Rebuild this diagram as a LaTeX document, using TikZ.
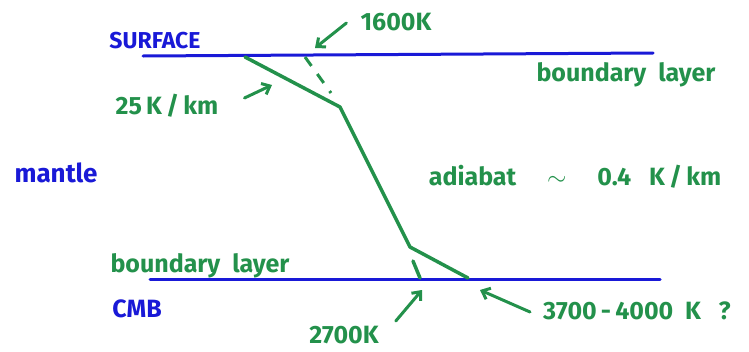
\documentclass[tikz,border=0pt]{standalone}
\usepackage{fontspec}
\setmainfont{Fira Sans}
\usetikzlibrary{arrows.meta, positioning}

\definecolor{penblue}{RGB}{25,25,215}
\definecolor{pengreen}{RGB}{35,145,75}

\tikzset{
  bline/.style={penblue, line width=3pt, line cap=round},
  gline/.style={pengreen, line width=3.5pt, line cap=round, line join=round},
  gdash/.style={pengreen, line width=3pt, dash pattern=on 11pt off 10pt},
  garrow/.style={pengreen, line width=3pt, line cap=round,
    -{Straight Barb[length=7pt, width=12pt, line width=3pt]}},
  blabel/.style={penblue, font=\fontsize{23}{26}\selectfont\bfseries, inner sep=0pt},
  glabel/.style={pengreen, font=\fontsize{25}{28}\selectfont\bfseries, inner sep=0pt}
}

\begin{document}
\begin{tikzpicture}[x=1pt, y=-1pt]
        \useasboundingbox (0,0) rectangle (749,351);

        % Surface and core-mantle boundary
        \coordinate (surfL) at (143,56);
        \coordinate (surfR) at (653,53);
        \coordinate (cmbL) at (150,279);
        \coordinate (cmbR) at (660,279);
        \draw[bline] (surfL) -- (surfR);
        \draw[bline] (cmbL) -- (cmbR);

        % Geotherm with the two boundary layers
        \coordinate (geoTop) at (245,57);
        \coordinate (kinkTop) at (340,107);
        \coordinate (kinkBot) at (410,247);
        \coordinate (geoBot) at (468,278);
        \draw[gline] (geoTop) -- (kinkTop) -- (kinkBot) -- (geoBot);

        % Adiabat continued to the boundaries
        \coordinate (adiTop) at (305,57);
        \coordinate (adiTopEnd) at (331,93);
        \coordinate (adiBot) at (413,261);
        \coordinate (adiBotEnd) at (420,278);
        \draw[gdash] (adiTop) -- (adiTopEnd);
        \draw[gline] (adiBot) -- (adiBotEnd);

        % Labels
        \node[blabel] (surface) at (155,41) {SURFACE};
        \node[blabel, font=\fontsize{26}{30}\selectfont\bfseries] (mantle) at (56,173) {mantle};
        \node[blabel, font=\fontsize{25}{28}\selectfont\bfseries] (cmb) at (137,309) {CMB};
        \node[glabel] (blTop) at (626,75) {boundary\ \ layer};
        \node[glabel] (blBot) at (200,266) {boundary\ \ layer};
        \node[glabel] (adiabat) at (575,177) {adiabat\quad\ $\sim$\quad\ 0.4\ \ \ K\,/\,km};
        \node[glabel] (k1600) at (396,22) {1600K};
        \node[glabel] (grad) at (167,106) {25\,K\,/\,km};
        \node[glabel] (k2700) at (344,335) {2700K};
        \node[glabel] (k3700) at (637,311) {3700\,-\,4000\ \ K\ \ \ ?};

        % Pointers
        \coordinate (tip1600) at (315,48);
        \coordinate (tipGrad) at (272,85);
        \coordinate (tip2700) at (422,290);
        \coordinate (tip3700) at (480,290);
        \draw[garrow] (k1600.west) ++(-14,1) coordinate (tail1600) -- (tip1600);
        \draw[garrow] (grad.east) ++(26,-8) coordinate (tailGrad) -- (tipGrad);
        \draw[garrow] (k2700.east) ++(17,-14) coordinate (tail2700) -- (tip2700);
        \draw[garrow] (k3700.west) ++(-13,1) coordinate (tail3700) -- (tip3700);
    \end{tikzpicture}
\end{document}
